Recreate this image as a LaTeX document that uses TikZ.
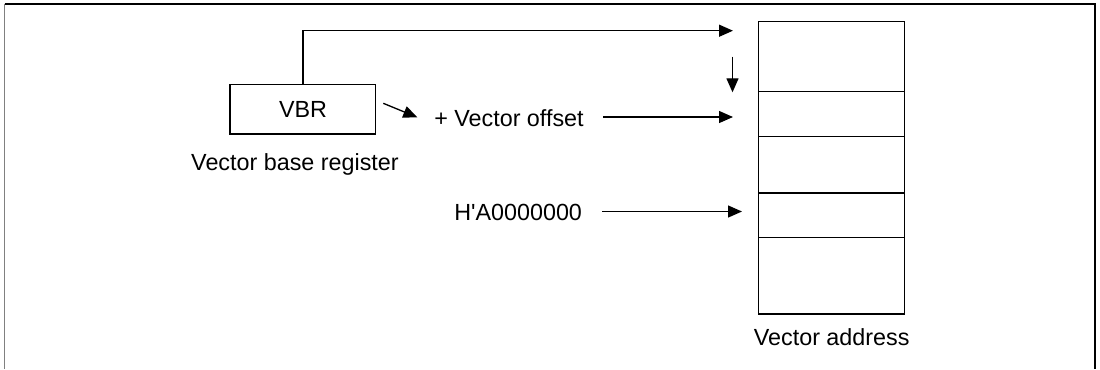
\documentclass[tikz,border=0pt]{standalone}
\usepackage{fontspec}
\setmainfont{Liberation Sans}[Ligatures=TeXOff]
\usetikzlibrary{arrows.meta}
\begin{document}
\begin{tikzpicture}[x=0.75pt,y=-0.75pt,
  every node/.style={font=\fontsize{17.5}{21}\selectfont, inner sep=0pt},
  line/.style={line width=1pt, black},
  arr/.style={line, -{Triangle[length=10.5pt,width=9pt]}},
  cell/.style={draw, line width=1pt, minimum width=146*0.75pt, inner sep=0pt},
  lbl/.style={anchor=base west}]
\useasboundingbox (0,0) rectangle (1100,369);
% frame
\draw[line width=1pt, gray] (4.5,4.3) -- (4.5,369);
\draw[line width=1.3pt] (4.5,4.3) -- (1094.7,4.3) -- (1094.7,369);
% VBR box
\node[draw, line width=1pt, minimum width=145.7*0.75pt, minimum height=49.3*0.75pt] (vbr) at (302.85,109.35) {};
\node[anchor=base] (vbrt) at (303,117.3) {VBR};
\node[anchor=base] (vbrl) at (295,170) {Vector base register};
% memory column
\node[cell, minimum height=70*0.75pt]   (m1) at (831.7,56.7) {};
\node[cell, minimum height=44.6*0.75pt] (m2) at (831.7,114) {};
\node[cell, minimum height=56.7*0.75pt] (m3) at (831.7,164.65) {};
\node[cell, minimum height=44.7*0.75pt] (m4) at (831.7,215.35) {};
\node[cell, minimum height=76.3*0.75pt] (m5) at (831.7,275.85) {};
\node[anchor=base] (va) at (831.7,345.5) {Vector address};
% labels
\node[lbl] (off) at (434,126) {+ Vector offset};
\node[lbl] (ha) at (454,220) {H'A0000000};
% arrow end points
\coordinate (ttip) at (733,30.7);
\coordinate (d1) at (732.5,56.7);
\coordinate (d2) at (732.5,92.3);
\coordinate (g1) at (383.3,103.3);
\coordinate (g2) at (417.3,117.3);
\coordinate (o1) at (603,117);
\coordinate (o2) at (733,117);
\coordinate (h1) at (602,211.5);
\coordinate (h2) at (742,211.5);
% connectors
\draw[arr] (vbr.north) |- (ttip);
\draw[arr] (d1) -- (d2);
\draw[arr] (g1) -- (g2);
\draw[arr] (o1) -- (o2);
\draw[arr] (h1) -- (h2);
\end{tikzpicture}
\end{document}
